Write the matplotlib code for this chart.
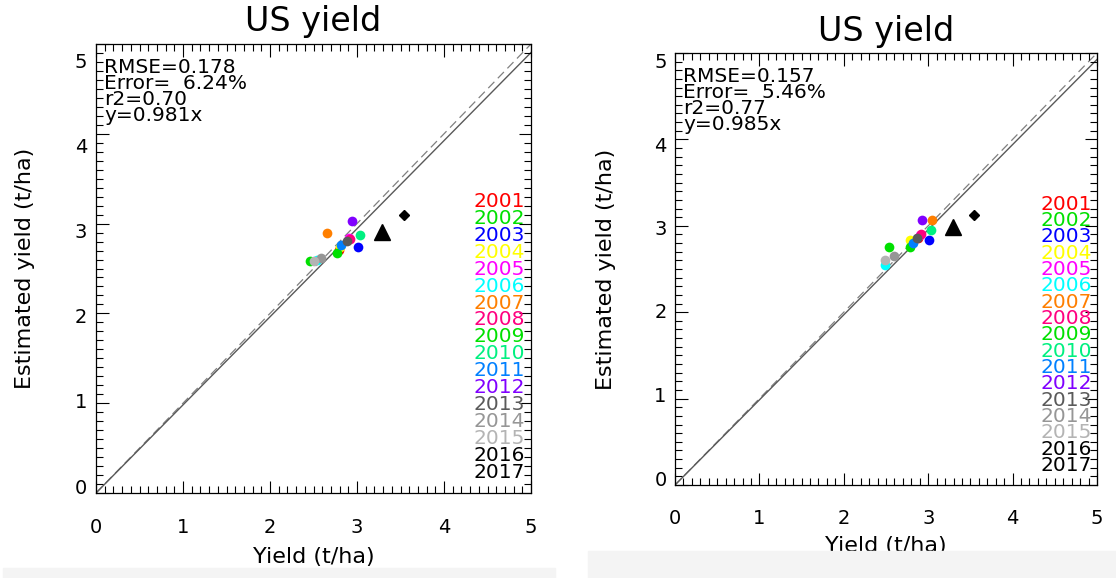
import numpy as np
import matplotlib.pyplot as plt
from matplotlib.ticker import MultipleLocator
from matplotlib.transforms import ScaledTranslation, blended_transform_factory
from matplotlib.patches import Rectangle

# ---------------- data ----------------
years = ["2001", "2002", "2003", "2004", "2005", "2006", "2007", "2008", "2009",
         "2010", "2011", "2012", "2013", "2014", "2015", "2016", "2017"]
year_colors = ["#ff0000", "#00e000", "#0000ff", "#ffff00", "#ff00ff", "#00ffff",
               "#ff7f00", "#ff0080", "#00e000", "#00f080", "#0080ff", "#8000ff",
               "#5a5a5a", "#969696", "#b4b4b4", "#000000", "#000000"]

# panel 1
obs_a = [2.79, 2.46, 3.01, 2.80, 2.91, 2.54, 2.65, 2.92, 2.77, 3.04, 2.82, 2.94, 2.88, 2.59, 2.50, 3.54, 3.29]
est_a = [2.71, 2.58, 2.74, 2.74, 2.84, 2.59, 2.89, 2.83, 2.67, 2.87, 2.76, 3.03, 2.81, 2.62, 2.58, 3.10, 2.91]
stats_a = ["RMSE=0.178", "Error=  6.24%", "r2=0.70", "y=0.981x"]
slope_a = 0.981

# panel 2
obs_b = [2.88, 2.53, 3.01, 2.79, 2.90, 2.49, 3.04, 2.91, 2.78, 3.03, 2.82, 2.93, 2.87, 2.59, 2.49, 3.54, 3.29]
est_b = [2.86, 2.75, 2.84, 2.84, 2.89, 2.55, 3.07, 2.90, 2.75, 2.95, 2.80, 3.07, 2.86, 2.65, 2.60, 3.13, 2.99]
stats_b = ["RMSE=0.157", "Error=  5.46%", "r2=0.77", "y=0.985x"]
slope_b = 0.985

tick_vals = [0, 1, 2, 3, 4, 5]

plt.rcParams['font.family'] = ['DejaVu Sans']

fig = plt.figure(figsize=(11.16, 5.78), dpi=100)


def draw_panel(rect, obs, est, stats, slope, ylab_shift, xlab_pad, xtick_pad):
    ax = fig.add_axes(rect)
    ax.set_xlim(0, 5)
    ax.set_ylim(0, 5)

    # 1:1 line and fitted line
    xx = np.array([0, 5])
    ax.plot(xx, xx, color="0.5", lw=0.9, ls=(0, (7, 4)), zorder=1)
    ax.plot(xx, slope * xx, color="0.35", lw=1.0, zorder=1)

    # one marker per year, last two are black diamond / triangle
    for i in range(len(years)):
        if i == 15:
            ax.plot(obs[i], est[i], marker="D", ms=5, color="black", ls="none", zorder=3)
        elif i == 16:
            ax.plot(obs[i], est[i], marker="^", ms=11, color="black", ls="none", zorder=3)
        else:
            ax.plot(obs[i], est[i], marker="o", ms=7, color=year_colors[i],
                    mec="none", ls="none", zorder=2)

    # IDL-style inward ticks on all four sides
    ax.xaxis.set_major_locator(MultipleLocator(1))
    ax.yaxis.set_major_locator(MultipleLocator(1))
    ax.xaxis.set_minor_locator(MultipleLocator(0.1))
    ax.yaxis.set_minor_locator(MultipleLocator(0.1))
    ax.tick_params(which="both", direction="in", top=True, right=True, width=0.8, color="black")
    ax.tick_params(which="major", length=9)
    ax.tick_params(which="minor", length=5)
    ax.tick_params(axis="x", labelsize=14, pad=xtick_pad)
    ax.set_yticklabels([])
    for s in ax.spines.values():
        s.set_linewidth(0.9)

    # y tick labels, slightly off their ticks
    trans = blended_transform_factory(ax.transAxes, ax.transData)
    for v in tick_vals:
        off = ScaledTranslation(0, -(ylab_shift[0] + ylab_shift[1] * v) / 100, fig.dpi_scale_trans)
        ax.text(-0.02, v, str(v), transform=trans + off, ha="right", va="center", fontsize=14)

    # stats block
    for k, line in enumerate(stats):
        ax.annotate(line, xy=(0, 1), xycoords="axes fraction", xytext=(8, -29 - 16 * k),
                    textcoords="offset pixels", ha="left", va="baseline", fontsize=14.5)

    # year legend
    n = len(years)
    for k in range(n):
        ax.text(0.987, 0.65 - k * (0.65 - 0.045) / (n - 1), years[k], color=year_colors[k],
                transform=ax.transAxes, ha="right", va="center", fontsize=14.5)

    ax.set_title("US yield", fontsize=24, pad=9)
    ax.set_xlabel("Yield (t/ha)", fontsize=16, labelpad=xlab_pad)
    ax.set_ylabel("Estimated yield (t/ha)", fontsize=16)
    ax.yaxis.set_label_coords(-0.14, 0.5)
    return ax


draw_panel([96 / 1116, 85 / 578, 435 / 1116, 449 / 578], obs_a, est_a, stats_a, slope_a,
           (-5, 4.6), 7, 18)
draw_panel([675 / 1116, 93 / 578, 422 / 1116, 432 / 578], obs_b, est_b, stats_b, slope_b,
           (-5, 2.9), 6, 17)

# light strips along the bottom edge
fig.patches.append(Rectangle((3 / 1116, 0), 552 / 1116, 10 / 578, transform=fig.transFigure,
                             color="#f4f4f4", zorder=5))
fig.patches.append(Rectangle((588 / 1116, 0), 528 / 1116, 27 / 578, transform=fig.transFigure,
                             color="#f4f4f4", zorder=5))

fig.savefig("out.png", dpi=100)
